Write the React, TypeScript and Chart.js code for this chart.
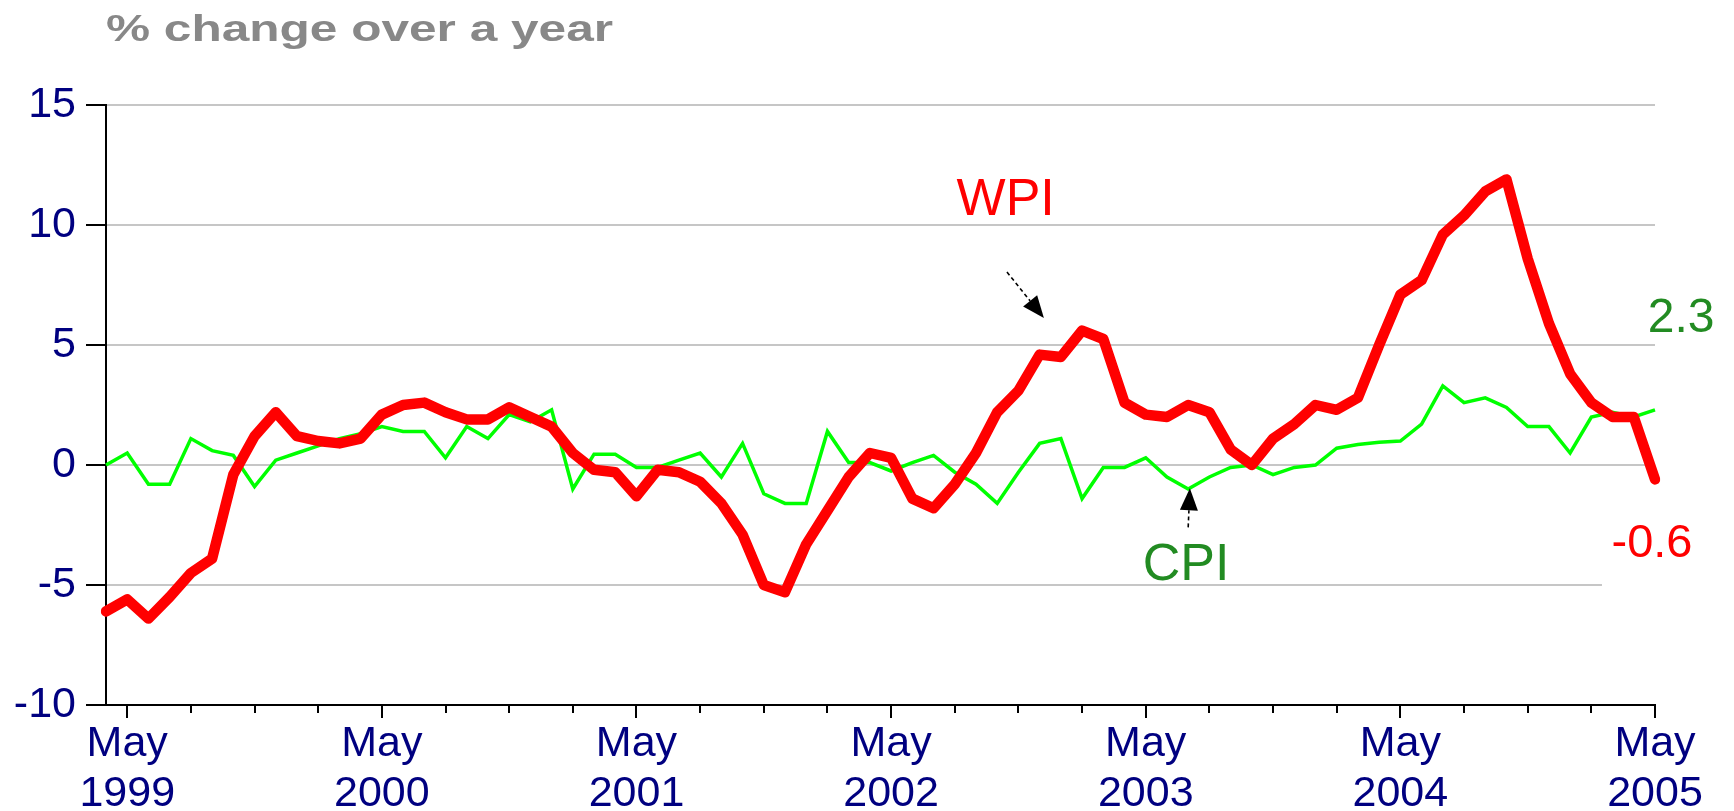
import React, { useEffect, useRef } from 'react';
import { Chart, registerables } from 'chart.js';

Chart.register(...registerables);

const months = [
  'Apr 1999', 'May 1999', 'Jun 1999', 'Jul 1999', 'Aug 1999', 'Sep 1999', 'Oct 1999', 'Nov 1999', 'Dec 1999',
  'Jan 2000', 'Feb 2000', 'Mar 2000', 'Apr 2000', 'May 2000', 'Jun 2000', 'Jul 2000', 'Aug 2000', 'Sep 2000', 'Oct 2000', 'Nov 2000', 'Dec 2000',
  'Jan 2001', 'Feb 2001', 'Mar 2001', 'Apr 2001', 'May 2001', 'Jun 2001', 'Jul 2001', 'Aug 2001', 'Sep 2001', 'Oct 2001', 'Nov 2001', 'Dec 2001',
  'Jan 2002', 'Feb 2002', 'Mar 2002', 'Apr 2002', 'May 2002', 'Jun 2002', 'Jul 2002', 'Aug 2002', 'Sep 2002', 'Oct 2002', 'Nov 2002', 'Dec 2002',
  'Jan 2003', 'Feb 2003', 'Mar 2003', 'Apr 2003', 'May 2003', 'Jun 2003', 'Jul 2003', 'Aug 2003', 'Sep 2003', 'Oct 2003', 'Nov 2003', 'Dec 2003',
  'Jan 2004', 'Feb 2004', 'Mar 2004', 'Apr 2004', 'May 2004', 'Jun 2004', 'Jul 2004', 'Aug 2004', 'Sep 2004', 'Oct 2004', 'Nov 2004', 'Dec 2004',
  'Jan 2005', 'Feb 2005', 'Mar 2005', 'Apr 2005', 'May 2005',
];

const wpi = [
  -6.1, -5.6, -6.4, -5.5, -4.5, -3.9, -0.4, 1.2, 2.2,
  1.2, 1.0, 0.9, 1.1, 2.1, 2.5, 2.6, 2.2, 1.9, 1.9, 2.4, 2.0,
  1.6, 0.5, -0.2, -0.3, -1.3, -0.2, -0.3, -0.7, -1.6, -2.9, -5.0, -5.3,
  -3.3, -1.9, -0.5, 0.5, 0.3, -1.4, -1.8, -0.8, 0.5, 2.2, 3.1, 4.6,
  4.5, 5.6, 5.25, 2.6, 2.1, 2.0, 2.5, 2.2, 0.65, 0.0, 1.1, 1.7,
  2.5, 2.3, 2.8, 5.0, 7.1, 7.7, 9.6, 10.4, 11.4, 11.9, 8.6, 5.9,
  3.8, 2.6, 2.0, 2.0, -0.6,
];

const cpi = [
  0.0, 0.5, -0.8, -0.8, 1.1, 0.6, 0.4, -0.9, 0.2,
  0.5, 0.8, 1.1, 1.3, 1.6, 1.4, 1.4, 0.3, 1.6, 1.1, 2.1, 1.8,
  2.3, -1.0, 0.45, 0.45, -0.1, -0.1, 0.2, 0.5, -0.5, 0.9, -1.2, -1.6,
  -1.6, 1.4, 0.1, 0.1, -0.25, 0.1, 0.4, -0.3, -0.8, -1.6, -0.3, 0.9,
  1.1, -1.4, -0.1, -0.1, 0.3, -0.5, -1.0, -0.5, -0.1, 0.0, -0.4, -0.1,
  0.0, 0.7, 0.85, 0.95, 1.0, 1.7, 3.3, 2.6, 2.8, 2.4, 1.6, 1.6,
  0.5, 2.0, 2.2, 2.0, 2.3,
];

const yMin = -10;
const yMax = 15;
const yStep = 5;

const TITLE = '% change over a year';
const FONT = "'Liberation Sans', Arial, Helvetica, sans-serif";
const NAVY = '#000080';
const RED = '#ff0000';
const LIME = '#00ff00';
const DARK_GREEN = '#228b22';
const GRID = '#c6c6c6';

// annotation anchors in data units (x = month index, y = value)
const notes = [
  { text: 'WPI', x: 42.4, y: 10.4, color: RED, size: 52, align: 'center' },
  { text: 'CPI', x: 50.9, y: -4.8, color: DARK_GREEN, size: 52, align: 'center' },
  { text: '2.3', x: 72.66, y: 5.54, color: DARK_GREEN, size: 48, align: 'left' },
  { text: '-0.6', x: 70.95, y: -3.83, color: RED, size: 47, align: 'left' },
];
const arrows = [
  { from: [42.46, 8.04], to: [44.2, 6.12] },
  { from: [51.0, -2.6], to: [51.08, -0.97] },
];

const quarterTicks = months.map((_, i) => i).filter((i) => (i - 1) % 3 === 0);

const drawArrow = (ctx: CanvasRenderingContext2D, x1: number, y1: number, x2: number, y2: number) => {
  const ang = Math.atan2(y2 - y1, x2 - x1);
  const head = 22;
  const half = 9;
  const bx = x2 - head * Math.cos(ang);
  const by = y2 - head * Math.sin(ang);
  ctx.save();
  ctx.strokeStyle = '#000';
  ctx.lineWidth = 1.6;
  ctx.setLineDash([4, 3]);
  ctx.beginPath();
  ctx.moveTo(x1, y1);
  ctx.lineTo(bx, by);
  ctx.stroke();
  ctx.setLineDash([]);
  ctx.fillStyle = '#000';
  ctx.beginPath();
  ctx.moveTo(x2, y2);
  ctx.lineTo(bx + half * Math.sin(ang), by - half * Math.cos(ang));
  ctx.lineTo(bx - half * Math.sin(ang), by + half * Math.cos(ang));
  ctx.closePath();
  ctx.fill();
  ctx.restore();
};

const decorPlugin = {
  id: 'decor',
  beforeDatasetsDraw(chart: any) {
    const { ctx, chartArea } = chart;
    const xs = chart.scales.x;
    const ys = chart.scales.y;
    // white box behind the "-0.6" label interrupts the -5 grid line
    const gy = ys.getPixelForValue(-5);
    const gx = xs.getPixelForValue(70.5);
    ctx.save();
    ctx.fillStyle = '#fff';
    ctx.fillRect(gx, gy - 3, chartArea.right - gx + 2, 6);
    ctx.restore();
  },
  afterDraw(chart: any) {
    const { ctx, chartArea } = chart;
    const xs = chart.scales.x;
    const ys = chart.scales.y;
    // quarterly tick marks, longer at May
    ctx.save();
    ctx.strokeStyle = '#000';
    ctx.lineWidth = 2;
    quarterTicks.forEach((i) => {
      const px = Math.round(xs.getPixelForValue(i));
      const len = months[i].startsWith('May') ? 13 : 8;
      ctx.beginPath();
      ctx.moveTo(px, chartArea.bottom);
      ctx.lineTo(px, chartArea.bottom + len);
      ctx.stroke();
    });
    ctx.restore();

    // arrows
    arrows.forEach((a) => {
      drawArrow(
        ctx,
        xs.getPixelForValue(a.from[0]), ys.getPixelForValue(a.from[1]),
        xs.getPixelForValue(a.to[0]), ys.getPixelForValue(a.to[1])
      );
    });

    // labels
    ctx.save();
    ctx.textBaseline = 'alphabetic';
    notes.forEach((n) => {
      ctx.font = `${n.size}px ${FONT}`;
      ctx.fillStyle = n.color;
      ctx.textAlign = n.align as CanvasTextAlign;
      ctx.fillText(n.text, xs.getPixelForValue(n.x), ys.getPixelForValue(n.y));
    });
    ctx.restore();

    // title (wide lettering)
    ctx.save();
    ctx.font = `bold 36px ${FONT}`;
    const w = ctx.measureText(TITLE).width;
    const target = 507;
    ctx.translate(chartArea.left, 41);
    ctx.scale(target / w, 1);
    ctx.fillStyle = '#888888';
    ctx.textAlign = 'left';
    ctx.textBaseline = 'alphabetic';
    ctx.fillText(TITLE, 0, 0);
    ctx.restore();
  },
};

export default function App() {
  const canvasRef = useRef<HTMLCanvasElement | null>(null);

  useEffect(() => {
    if (!canvasRef.current) return;
    const chart = new Chart(canvasRef.current, {
      type: 'line',
      data: {
        labels: months,
        datasets: [
          {
            label: 'WPI',
            data: wpi,
            borderColor: RED,
            backgroundColor: RED,
            borderWidth: 10.5,
            pointRadius: 0,
            tension: 0,
            borderJoinStyle: 'round',
            borderCapStyle: 'round',
          },
          {
            label: 'CPI',
            data: cpi,
            borderColor: LIME,
            backgroundColor: LIME,
            borderWidth: 3.5,
            pointRadius: 0,
            tension: 0,
            borderJoinStyle: 'miter',
          },
        ],
      },
      options: {
        animation: false,
        responsive: true,
        maintainAspectRatio: false,
        layout: { padding: { top: 105, right: 79, left: 0, bottom: 0 } },
        plugins: {
          legend: { display: false },
          title: { display: false },
          tooltip: { enabled: false },
        },
        scales: {
          x: {
            type: 'category',
            afterFit: (s: any) => { s.height = 106; },
            grid: { display: true, drawOnChartArea: false, drawTicks: false },
            border: { display: true, color: '#000', width: 2 },
            ticks: {
              autoSkip: false,
              maxRotation: 0,
              minRotation: 0,
              padding: 14,
              color: NAVY,
              font: { family: FONT, size: 43, lineHeight: 50 / 43 },
              callback: (_v: any, i: number) => {
                const m = months[i];
                return m.startsWith('May') ? ['May', m.slice(4)] : '';
              },
            },
          },
          y: {
            min: yMin,
            max: yMax,
            afterFit: (s: any) => { s.width = 106; },
            ticks: {
              stepSize: yStep,
              padding: 10,
              color: NAVY,
              font: { family: FONT, size: 43 },
            },
            grid: {
              color: (c: any) => (c.tick && c.tick.value === yMin ? 'rgba(0,0,0,0)' : GRID),
              lineWidth: 2,
              tickColor: '#000',
              tickWidth: 2,
              tickLength: 20,
              drawTicks: true,
            },
            border: { display: true, color: '#000', width: 2 },
          },
        },
      },
      plugins: [decorPlugin],
    });
    return () => chart.destroy();
  }, []);

  return (
    <div style={{ position: 'absolute', left: 0, top: 0, width: '1734px', height: '811px', background: '#fff' }}>
      <canvas ref={canvasRef} />
    </div>
  );
}
